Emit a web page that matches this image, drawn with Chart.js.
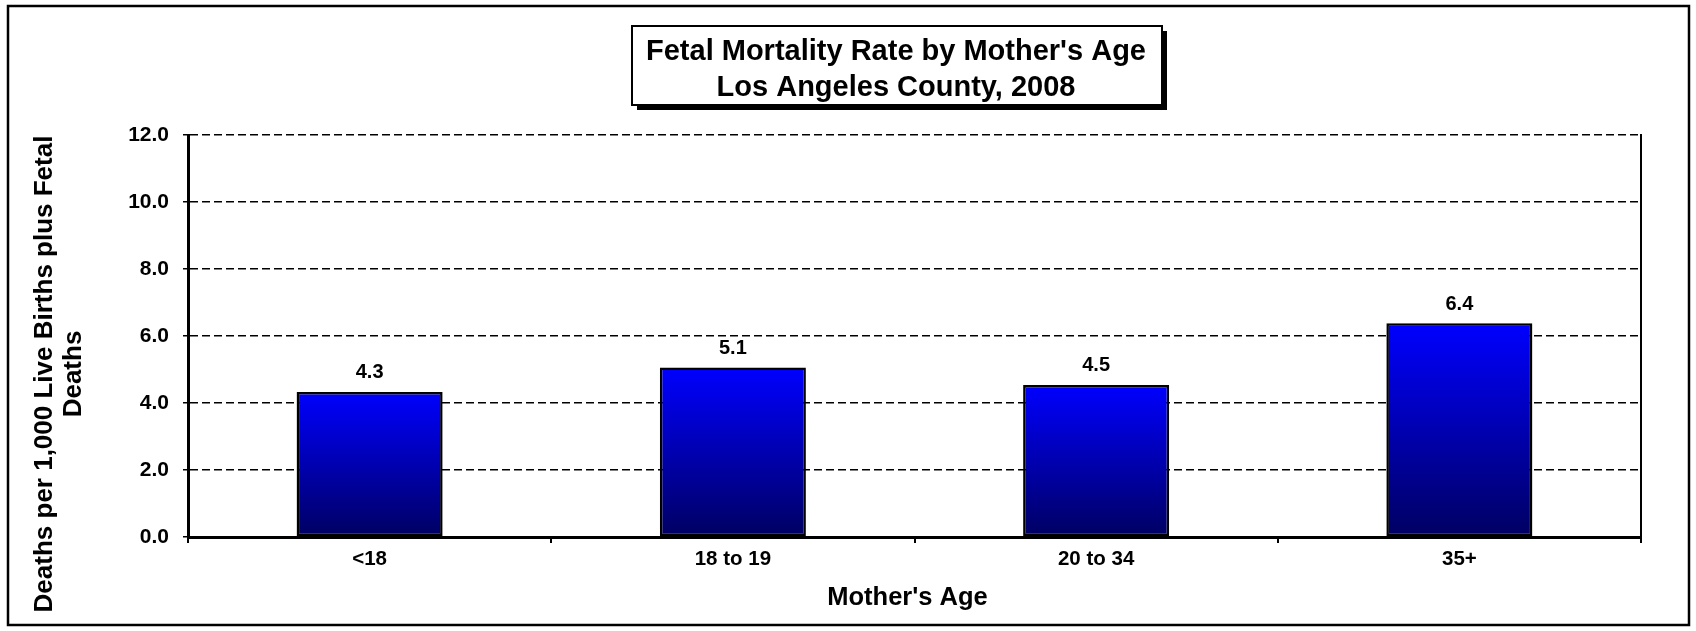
<!DOCTYPE html>
<html>
<head>
<meta charset="utf-8">
<script src="https://cdn.jsdelivr.net/npm/chart.js@4/dist/chart.umd.min.js"></script>
<style>
  html, body { margin: 0; padding: 0; background: #fff; }
  #wrap { width: 1696px; height: 631px; position: relative; }
</style>
</head>
<body>
<div id="wrap"><canvas id="c" width="1696" height="631"></canvas></div>
<script>
const categories = ['<18', '18 to 19', '20 to 34', '35+'];
const rates = [4.33, 5.06, 4.54, 6.38];
const titleLines = ["Fetal Mortality Rate by Mother's Age", 'Los Angeles County, 2008'];
const yTitle = ['Deaths per 1,000 Live Births plus Fetal', 'Deaths'];
const xTitle = "Mother's Age";

const FONT = "'Liberation Sans', Arial, sans-serif";

const frame = {
  id: 'frame',
  afterDraw(chart) {
    const c = chart.ctx;
    const area = chart.chartArea;
    c.save();
    c.strokeStyle = '#000';
    c.lineWidth = 2.5;
    c.strokeRect(8, 6, 1681, 619);
    // title box with shadow
    const bx = 632, by = 26, bw = 530, bh = 79;
    c.fillStyle = '#000';
    c.fillRect(bx + 5, by + 5, bw, bh);
    c.fillStyle = '#fff';
    c.fillRect(bx, by, bw, bh);
    c.lineWidth = 2;
    c.strokeRect(bx, by, bw, bh);
    c.fillStyle = '#000';
    c.font = 'bold 29px ' + FONT;
    c.textAlign = 'center';
    c.textBaseline = 'middle';
    c.fillText(titleLines[0], bx + bw / 2 - 1, 52);
    c.fillText(titleLines[1], bx + bw / 2 - 1, 88);
    // x axis title
    c.font = 'bold 25.5px ' + FONT;
    c.fillText(xTitle, area.left + (area.right - area.left) / 2 - 7, 598);
    // y axis title
    c.font = 'bold 26px ' + FONT;
    c.translate(0, 374);
    c.rotate(-Math.PI / 2);
    c.fillText(yTitle[0], 0, 45);
    c.fillText(yTitle[1], 0, 74);
    c.restore();
  }
};

const valueLabels = {
  id: 'valueLabels',
  afterDatasetsDraw(chart) {
    const c = chart.ctx;
    const meta = chart.getDatasetMeta(0);
    c.save();
    c.fillStyle = '#000';
    c.font = 'bold 20px ' + FONT;
    c.textAlign = 'center';
    c.textBaseline = 'middle';
    meta.data.forEach((el, i) => {
      c.fillText(rates[i].toFixed(1), el.x, el.y - 19);
    });
    c.restore();
  }
};

new Chart(document.getElementById('c'), {
  type: 'bar',
  data: {
    labels: categories,
    datasets: [{
      data: rates,
      backgroundColor: (ctx) => {
        const chart = ctx.chart;
        if (!chart.chartArea || ctx.type !== 'data') return '#0000ff';
        const y = chart.scales.y;
        const top = y.getPixelForValue(ctx.raw);
        const base = y.getPixelForValue(0);
        const g = chart.ctx.createLinearGradient(0, top, 0, base);
        g.addColorStop(0, '#0000ff');
        g.addColorStop(1, '#000062');
        return g;
      },
      borderColor: '#000',
      borderWidth: 2.5,
      borderSkipped: false,
      categoryPercentage: 1,
      barPercentage: 0.402
    }]
  },
  options: {
    responsive: false,
    animation: false,
    devicePixelRatio: 1,
    layout: { padding: { left: 12, right: 55, top: 135, bottom: 10 } },
    plugins: { legend: { display: false }, tooltip: { enabled: false }, title: { display: false } },
    scales: {
      x: {
        grid: { display: true, drawOnChartArea: false, drawTicks: true, tickLength: 6, offset: true, color: '#000', lineWidth: 2 },
        border: { display: true, color: '#000', width: 3 },
        ticks: { color: '#000', font: { family: FONT, size: 20.5, weight: 'bold' }, padding: 4 },
        afterFit(scale) { scale.height = 631 - 537 - 10; }
      },
      y: {
        min: 0, max: 12,
        ticks: { stepSize: 2, color: '#000', font: { family: FONT, size: 21, weight: 'bold' }, padding: 14, callback: (v) => Number(v).toFixed(1) },
        grid: { color: '#000', lineWidth: 1.5, drawTicks: true, tickLength: 5, tickColor: '#000', tickWidth: 1.5 },
        border: { display: true, color: '#000', width: 3, dash: [8, 4] },
        afterFit(scale) { scale.width = 188 - 12; }
      },
      y2: {
        position: 'right', display: true, min: 0, max: 12,
        ticks: { display: false },
        grid: { drawOnChartArea: false, drawTicks: false },
        border: { display: true, color: '#000', width: 2 },
        afterFit(scale) { scale.width = 0; }
      }
    }
  },
  plugins: [frame, valueLabels]
});
</script>
</body>
</html>
